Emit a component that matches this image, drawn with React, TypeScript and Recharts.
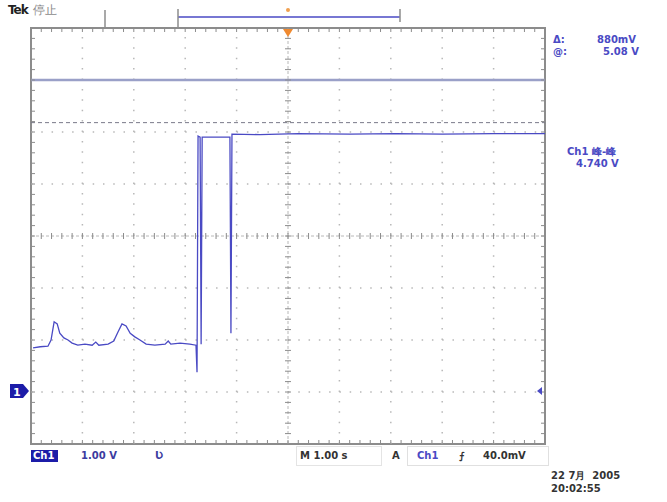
import React from 'react';
import { LineChart, Line, XAxis, YAxis, ReferenceLine, ReferenceArea, Scatter } from 'recharts';

// time in seconds (1.00 s/div, centre = 0), Ch1 in volts (1.00 V/div, ground = 0)
const timeS = [
  -4.96, -4.82, -4.67, -4.61, -4.55, -4.49, -4.44, -4.36, -4.28, -4.2, -4.09, -3.95, -3.81, -3.74, -3.68,
  -3.5, -3.39, -3.31, -3.23, -3.15, -3.07, -2.98, -2.88, -2.76, -2.59, -2.39, -2.33, -2.28, -2.1, -1.91,
  -1.79, -1.77, -1.75, -1.71, -1.69, -1.67, -1.13, -1.11, -1.09, -0.55, 0.2, 1.2, 2.1, 3.0, 4.0, 5.0,
];
const ch1Volts = [
  0.85, 0.87, 0.88, 1.0, 1.35, 1.31, 1.13, 1.04, 1.0, 0.94, 0.9, 0.92, 0.9, 0.96, 0.9,
  0.92, 0.98, 1.15, 1.31, 1.27, 1.13, 1.06, 1.0, 0.92, 0.9, 0.92, 0.98, 0.92, 0.94, 0.92,
  0.9, 0.38, 4.92, 4.9, 0.92, 4.9, 4.9, 1.13, 4.96, 4.95, 4.97, 4.96, 4.97, 4.96, 4.97, 4.97,
];
const waveform = timeS.map((t, i) => ({ t, v: ch1Volts[i] }));

const xDivs = [-4, -3, -2, -1, 1, 2, 3, 4];
const yDivs = [0, 1, 2, 4, 5, 6];
const xMinor = Array.from({ length: 51 }, (_, i) => -5 + i * 0.2);
const yMinor = Array.from({ length: 41 }, (_, i) => -1 + i * 0.2);
const cursorSolid = 6.0;
const cursorDashed = 5.18;

const centerRowTicks = xMinor.map((t) => ({ t, v: 3 }));
const centerColTicks = yMinor.map((v) => ({ t: 0, v }));
const topTicks = xMinor.map((t) => ({ t, v: 7 }));
const bottomTicks = xMinor.map((t) => ({ t, v: -1 }));
const leftTicks = yMinor.map((v) => ({ t: -5, v }));
const rightTicks = yMinor.map((v) => ({ t: 5, v }));

const BLUE = '#4a4ac4';
const GRID = '#b8b8b8';
const FRAME = '#8c8c8c';
const font = '"DejaVu Sans", sans-serif';

const VTick = (p: any) => <line x1={p.cx} x2={p.cx} y1={p.cy - 3} y2={p.cy + 3} stroke={FRAME} strokeWidth={1} />;
const HTick = (p: any) => <line x1={p.cx - 3} x2={p.cx + 3} y1={p.cy} y2={p.cy} stroke={FRAME} strokeWidth={1} />;
const TopTick = (p: any) => <line x1={p.cx} x2={p.cx} y1={p.cy} y2={p.cy + 4} stroke={FRAME} strokeWidth={1} />;
const BottomTick = (p: any) => <line x1={p.cx} x2={p.cx} y1={p.cy - 4} y2={p.cy} stroke={FRAME} strokeWidth={1} />;
const LeftTick = (p: any) => <line x1={p.cx} x2={p.cx + 4} y1={p.cy} y2={p.cy} stroke={FRAME} strokeWidth={1} />;
const RightTick = (p: any) => <line x1={p.cx - 4} x2={p.cx} y1={p.cy} y2={p.cy} stroke={FRAME} strokeWidth={1} />;

const txt = (left: number, top: number, s: string, color: string, extra: React.CSSProperties = {}) => (
  <div style={{ position: 'absolute', left, top, color, fontFamily: font, fontSize: 10, fontWeight: 700, whiteSpace: 'pre', lineHeight: '12px', ...extra }}>
    {s}
  </div>
);

const App = () => {
  return (
    <div style={{ position: 'absolute', left: 0, top: 0, width: 667, height: 502, background: '#fff', overflow: 'hidden' }}>
      <LineChart width={667} height={502} data={waveform} margin={{ top: 28, right: 122, bottom: 58, left: 31 }}>
        <XAxis dataKey="t" type="number" domain={[-5, 5]} hide />
        <YAxis dataKey="v" type="number" domain={[-1, 7]} hide />
        {xDivs.map((t) => (
          <ReferenceLine key={`gx${t}`} x={t} stroke={GRID} strokeWidth={1.5} strokeDasharray="1.5 8.9" />
        ))}
        {yDivs.map((v) => (
          <ReferenceLine key={`gy${v}`} y={v} stroke={GRID} strokeWidth={1.5} strokeDasharray="1.5 8.78" />
        ))}
        <ReferenceLine y={3} stroke={GRID} strokeDasharray="3 2" />
        <ReferenceLine x={0} stroke={GRID} strokeDasharray="3 2" />
        <Scatter data={centerRowTicks} dataKey="v" shape={VTick} isAnimationActive={false} />
        <Scatter data={centerColTicks} dataKey="v" shape={HTick} isAnimationActive={false} />
        <Scatter data={topTicks} dataKey="v" shape={TopTick} isAnimationActive={false} />
        <Scatter data={bottomTicks} dataKey="v" shape={BottomTick} isAnimationActive={false} />
        <Scatter data={leftTicks} dataKey="v" shape={LeftTick} isAnimationActive={false} />
        <Scatter data={rightTicks} dataKey="v" shape={RightTick} isAnimationActive={false} />
        <ReferenceArea x1={-5} x2={5} y1={-1} y2={7} fill="none" fillOpacity={0} stroke={FRAME} strokeWidth={2} />
        <ReferenceLine y={cursorSolid} stroke="#9aa0c8" strokeWidth={2.5} />
        <ReferenceLine y={cursorDashed} stroke="#7a7a8a" strokeDasharray="4 3" />
        <Line type="linear" dataKey="v" stroke={BLUE} strokeWidth={1.3} dot={false} isAnimationActive={false} />
      </LineChart>

      {/* status bar, markers */}
      <svg style={{ position: 'absolute', left: 0, top: 0 }} width={667} height={502}>
        <line x1={105} x2={105} y1={10} y2={28} stroke={FRAME} strokeWidth={1.5} />
        <line x1={178} x2={400} y1={17} y2={17} stroke={BLUE} strokeWidth={1.5} />
        <line x1={178} x2={178} y1={9} y2={28} stroke={FRAME} strokeWidth={1.5} />
        <line x1={400} x2={400} y1={9} y2={22} stroke={FRAME} strokeWidth={1.5} />
        <circle cx={288} cy={10} r={2} fill="#f0a050" />
        <path d="M283 29 L293 29 L288 37 Z" fill="#f08a30" />
        <path d="M10 384 L23 384 L29 391 L23 398 L10 398 Z" fill="#1c1ca8" />
        <text x={13} y={396} fill="#fff" fontFamily={font} fontSize={11} fontWeight={700}>1</text>
        <path d="M537 391 L542 387 L542 395 Z" fill={BLUE} />
      </svg>

      {txt(8, 4, 'Tek', '#222', { fontSize: 12, letterSpacing: -1 })}
      {txt(33, 4, '停止', '#8a8a8a', { fontSize: 12, fontWeight: 400 })}

      {txt(553, 34, 'Δ:', BLUE)}
      {txt(597, 34, '880mV', BLUE)}
      {txt(553, 46, '@:', BLUE)}
      {txt(603, 46, '5.08 V', BLUE)}
      {txt(567, 146, 'Ch1 峰-峰', BLUE)}
      {txt(576, 158, '4.740 V', BLUE)}

      <div style={{ position: 'absolute', left: 31, top: 450, width: 27, height: 12, background: '#1c1ca8' }} />
      {txt(33, 450, 'Ch1', '#fff')}
      {txt(81, 450, '1.00 V', '#3c3ca0')}
      {txt(155, 450, 'Ʋ', '#3c3ca0')}
      <div style={{ position: 'absolute', left: 296, top: 446, width: 84, height: 18, border: '1px solid #e4e4e4' }} />
      {txt(300, 450, 'M 1.00 s', '#333')}
      {txt(392, 450, 'A', '#333')}
      <div style={{ position: 'absolute', left: 407, top: 446, width: 140, height: 18, border: '1px solid #e0e0e0' }} />
      {txt(417, 450, 'Ch1', BLUE)}
      {txt(459, 450, '⨍', '#333')}
      {txt(483, 450, '40.0mV', '#333')}

      {txt(551, 470, '22 7月  2005', '#333', { fontSize: 10 })}
      {txt(551, 483, '20:02:55', '#333', { fontSize: 10 })}
    </div>
  );
};

export default App;
